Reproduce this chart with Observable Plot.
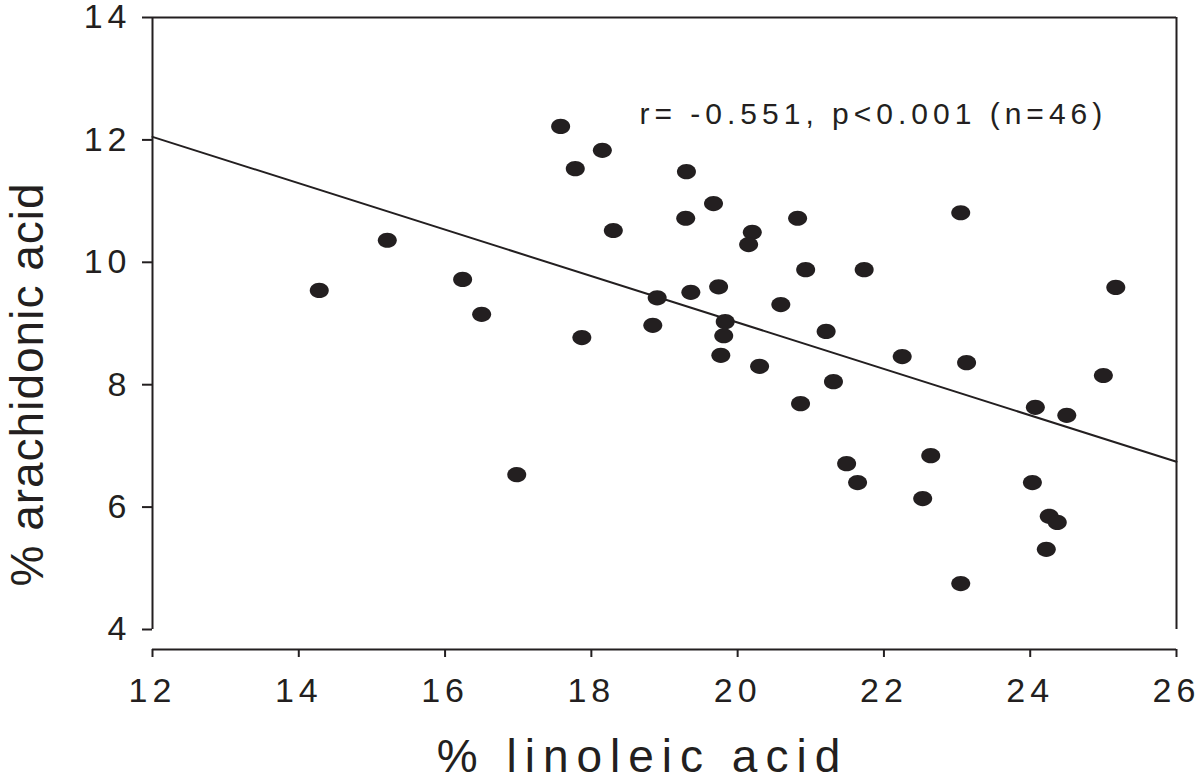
<!DOCTYPE html>
<html>
<head>
<meta charset="utf-8">
<script src="https://cdn.jsdelivr.net/npm/d3@7"></script>
<script src="https://cdn.jsdelivr.net/npm/@observablehq/plot@0.6"></script>
<style>
  html, body { margin: 0; padding: 0; background: #fff; }
  #chart { width: 1200px; height: 781px; }
</style>
</head>
<body>
<div id="chart"></div>
<script>
// ---- data ----
const linoleic = [14.28, 15.21, 16.24, 16.50, 16.98, 17.58, 17.78, 17.87, 18.15, 18.30,
  18.84, 18.90, 19.30, 19.29, 19.36, 19.67, 19.74, 19.77, 19.81, 19.83,
  20.20, 20.15, 20.30, 20.59, 20.82, 20.93, 20.86, 21.21, 21.31, 21.49,
  21.64, 21.73, 22.25, 22.53, 22.64, 23.05, 23.13, 23.05, 24.03, 24.07,
  24.22, 24.26, 24.37, 24.50, 25.00, 25.17];
const arachidonic = [9.54, 10.36, 9.72, 9.15, 6.53, 12.22, 11.53, 8.77, 11.83, 10.52,
  8.97, 9.42, 11.48, 10.72, 9.51, 10.96, 9.60, 8.48, 8.80, 9.03,
  10.49, 10.29, 8.30, 9.31, 10.72, 9.88, 7.69, 8.87, 8.05, 6.71,
  6.40, 9.88, 8.46, 6.14, 6.84, 10.81, 8.36, 4.75, 6.40, 7.63,
  5.31, 5.85, 5.75, 7.50, 8.15, 9.59];
const fitX = [12, 26];
const fitY = [12.05, 6.74];
const xTicks = [12, 14, 16, 18, 20, 22, 24, 26];
const yTicks = [4, 6, 8, 10, 12, 14];
const xDomain = [12, 26];
const yDomain = [4, 14];
const xLabel = "% linoleic acid";
const yLabel = "% arachidonic acid";
const annotation = "r= -0.551, p<0.001 (n=46)";

const points = linoleic.map((x, i) => ({x, y: arachidonic[i]}));
const fit = fitX.map((x, i) => ({x, y: fitY[i]}));

const ink = "#231f20";
const ellipse = {
  draw(context, size) {
    const rx = 9.5, ry = 7.6, k = 0.5523;
    context.moveTo(rx, 0);
    context.bezierCurveTo(rx, k * ry, k * rx, ry, 0, ry);
    context.bezierCurveTo(-k * rx, ry, -rx, k * ry, -rx, 0);
    context.bezierCurveTo(-rx, -k * ry, -k * rx, -ry, 0, -ry);
    context.bezierCurveTo(k * rx, -ry, rx, -k * ry, rx, 0);
    context.closePath();
  }
};

const chart = Plot.plot({
  width: 1200,
  height: 781,
  marginLeft: 152,
  marginRight: 24,
  marginTop: 17,
  marginBottom: 132,
  style: {fontFamily: "'Liberation Sans', Arial, Helvetica, sans-serif", background: "#fff", color: ink},
  x: {domain: xDomain},
  y: {domain: yDomain, range: [629, 17]},
  marks: [
    // box around the data area (left, right, top)
    Plot.ruleX(xDomain, {y1: yDomain[0], y2: yDomain[1], stroke: ink, strokeWidth: 2}),
    Plot.ruleY([yDomain[1]], {x1: xDomain[0], x2: xDomain[1], stroke: ink, strokeWidth: 2}),
    // detached x-axis line
    Plot.ruleY([yDomain[0]], {x1: xDomain[0], x2: xDomain[1], dy: 20, stroke: ink, strokeWidth: 2}),
    Plot.axisY({ticks: yTicks, tickSize: 10, tickPadding: 11, fontSize: 34, label: null, strokeWidth: 2, color: ink}),
    Plot.axisX({ticks: xTicks, tickSize: 8, tickPadding: 20, fontSize: 34, label: null, strokeWidth: 2, color: ink}),
    Plot.line(fit, {x: "x", y: "y", stroke: ink, strokeWidth: 2}),
    Plot.dot(points, {x: "x", y: "y", symbol: ellipse, fill: ink, stroke: null}),
    Plot.text([annotation], {frameAnchor: "top-left", text: d => d, textAnchor: "start", lineAnchor: "top", dx: 487, dy: 85, fontSize: 30, fill: ink}),
    Plot.text([xLabel], {frameAnchor: "bottom", text: d => d, textAnchor: "middle", lineAnchor: "middle", dx: -22, dy: 108, fontSize: 46, fill: ink}),
    Plot.text([yLabel], {frameAnchor: "left", text: d => d, rotate: -90, textAnchor: "middle", lineAnchor: "middle", dx: -124, dy: 51, fontSize: 46, fill: ink})
  ]
});

document.getElementById("chart").appendChild(chart);

const svg = d3.select(chart);
svg.selectAll('g[aria-label="y-axis tick label"] text, g[aria-label="x-axis tick label"] text')
  .style("letter-spacing", "5px").style("font-size", "34px");
svg.selectAll("text").each(function() {
  const t = this.textContent;
  if (t === annotation) d3.select(this).style("letter-spacing", "5px");
  else if (t === xLabel) d3.select(this).style("letter-spacing", "8px");
  else if (t === yLabel) d3.select(this).style("letter-spacing", "1px");
});
</script>
</body>
</html>
